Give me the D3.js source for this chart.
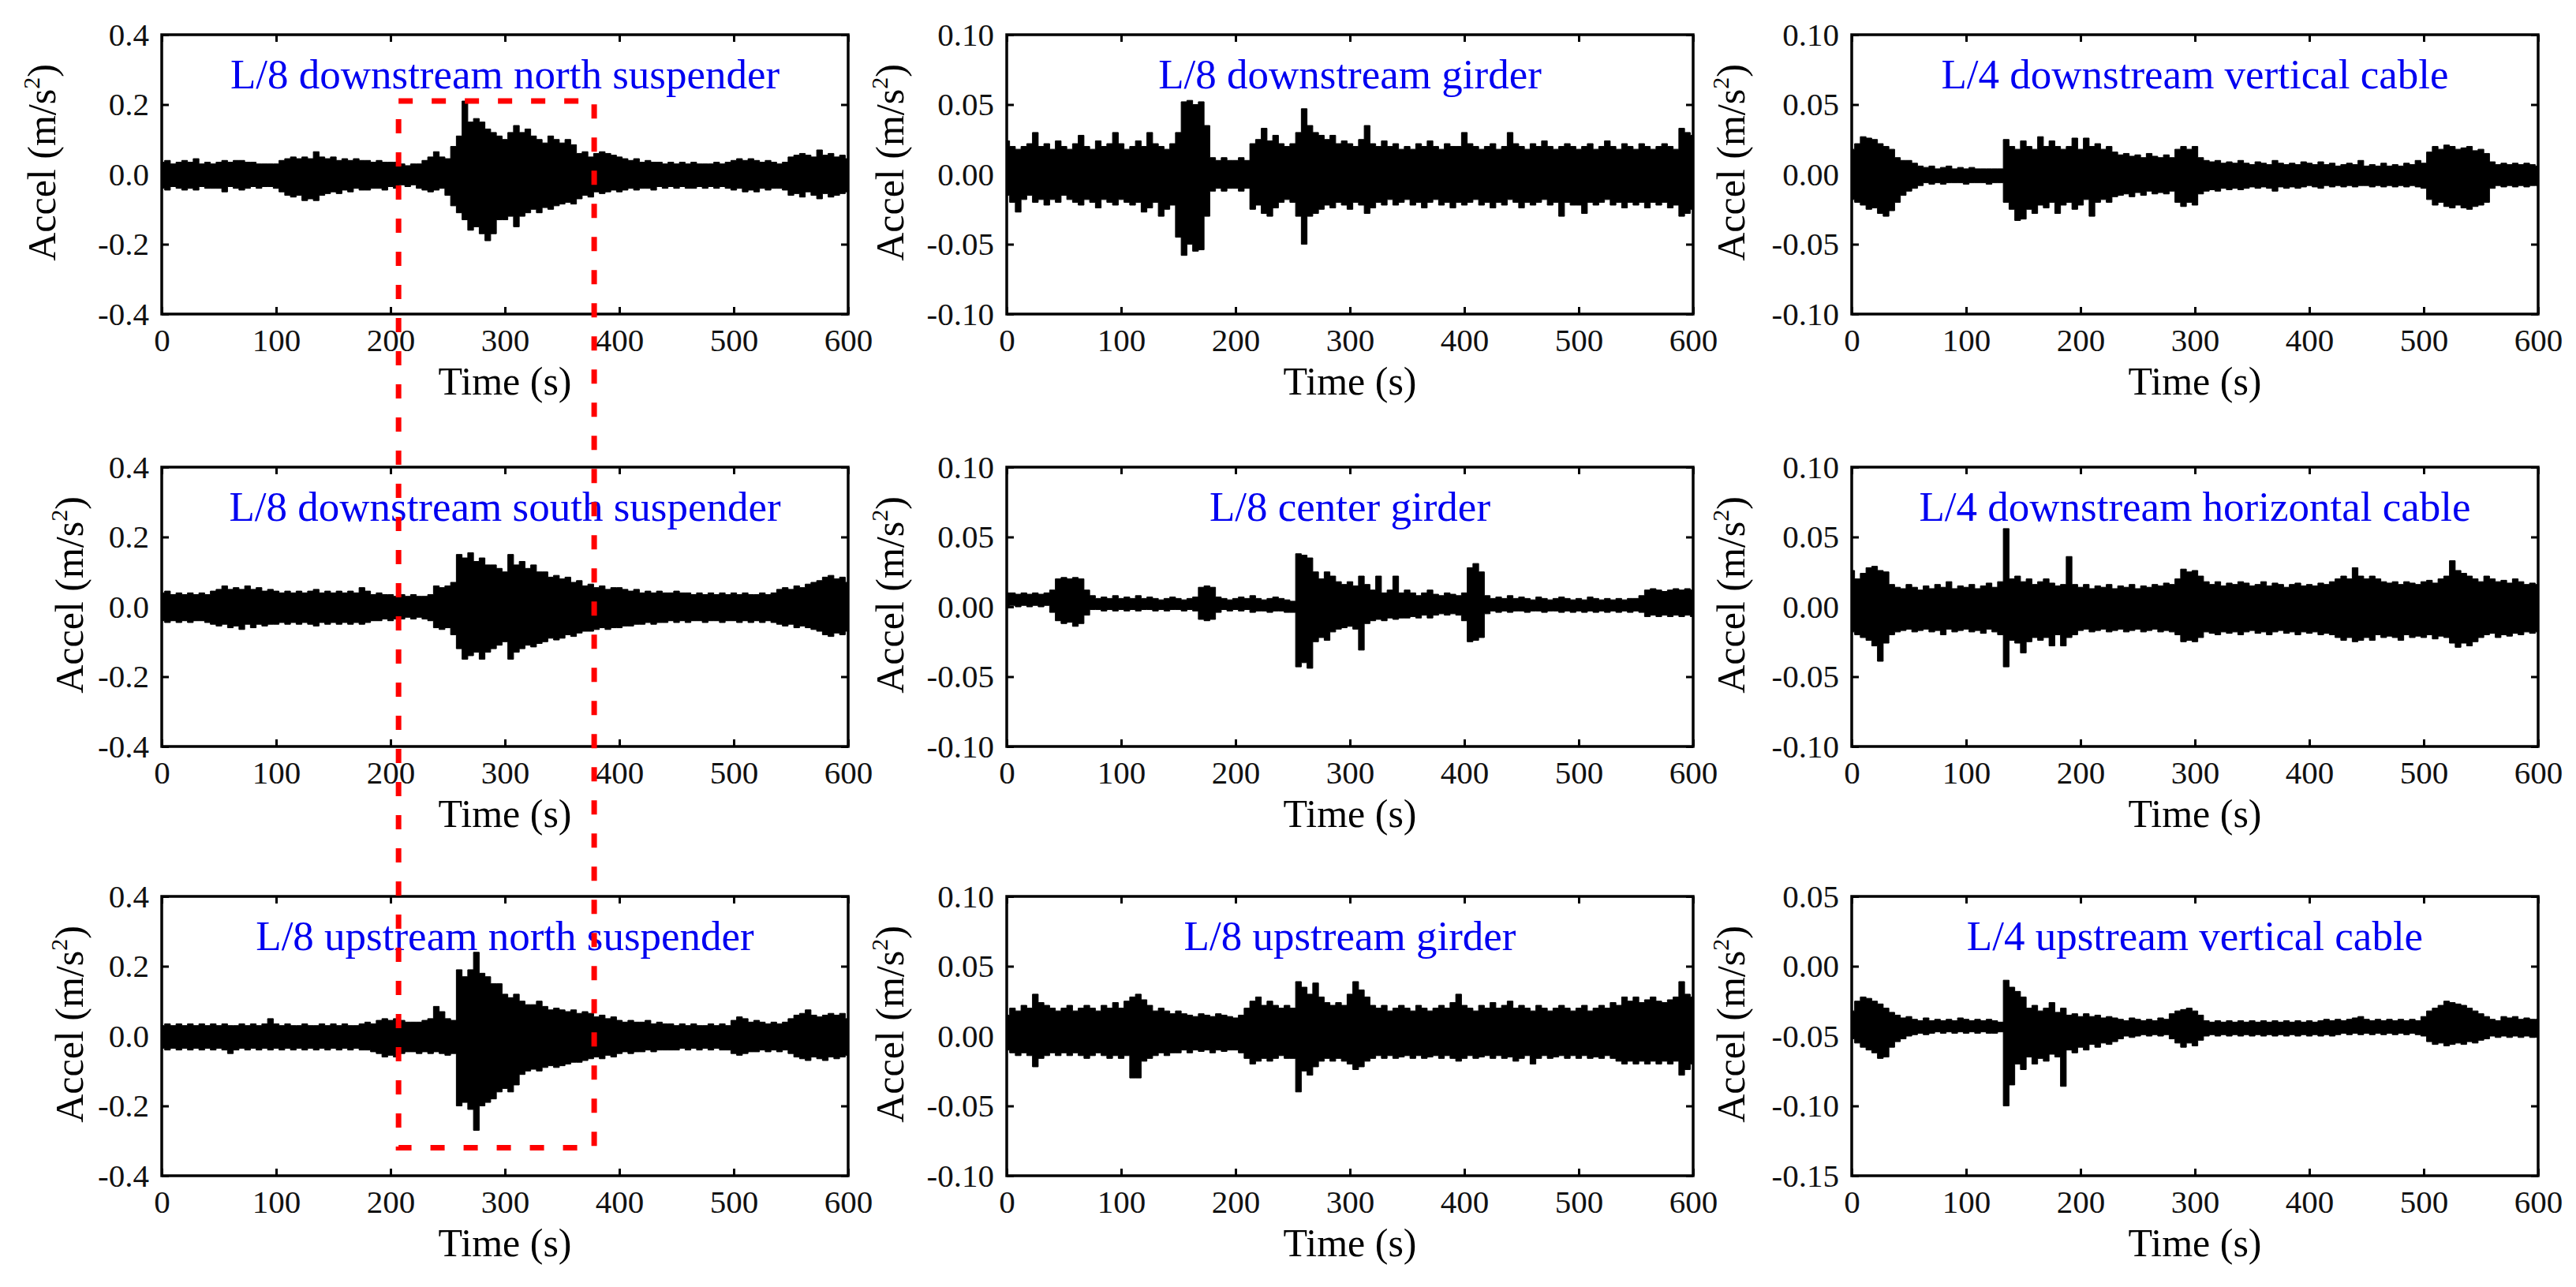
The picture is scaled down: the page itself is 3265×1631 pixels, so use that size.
<!DOCTYPE html>
<html lang="en">
<head>
<meta charset="UTF-8"/>
<title>Acceleration records</title>
<script src="https://d3js.org/d3.v7.min.js"></script>
<style>
  body { margin: 0; background: #fff; }
  text { font-family: "Liberation Serif", "Times New Roman", serif; }
  .frame { fill: none; stroke: #000; stroke-width: 3.5px; }
  .tick line { stroke: #000; stroke-width: 3px; }
  .tick text { font-family: "Liberation Serif", "Times New Roman", serif; font-size: 41px; fill: #111; }
  .trace { fill: #000; stroke: #000; stroke-width: 1px; }
  .title { fill: #0000f0; font-size: 53px; text-anchor: middle; }
  .xlabel, .ylabel { fill: #000; font-size: 50px; text-anchor: middle; }
  .zoomBox { fill: none; stroke: #f00; stroke-width: 7px; stroke-dasharray: 18,24; }
</style>
</head>
<body>
<div id="chart"></div>
<script>
// sample times (s) of the envelope readings
var times = [0,5,10,15,20,25,30,35,40,45,50,55,60,65,70,75,80,85,90,95,
  100,105,110,115,120,125,130,135,140,145,150,155,160,165,170,175,180,185,190,195,
  200,205,210,215,220,225,230,235,240,245,250,255,260,265,270,275,280,285,290,295,
  300,305,310,315,320,325,330,335,340,345,350,355,360,365,370,375,380,385,390,395,
  400,405,410,415,420,425,430,435,440,445,450,455,460,465,470,475,480,485,490,495,
  500,505,510,515,520,525,530,535,540,545,550,555,560,565,570,575,580,585,590,595,600];

var titles = ["L/8 downstream north suspender", "L/8 downstream girder", "L/4 downstream vertical cable",
  "L/8 downstream south suspender", "L/8 center girder", "L/4 downstream horizontal cable",
  "L/8 upstream north suspender", "L/8 upstream girder", "L/4 upstream vertical cable"];

var xTicks = [0, 100, 200, 300, 400, 500, 600];
var yTicksSusp = [-0.4, -0.2, 0, 0.2, 0.4];
var yTicksSmall = [-0.1, -0.05, 0, 0.05, 0.1];
var yTicksUpCable = [-0.15, -0.1, -0.05, 0, 0.05];

// envelope (max / min) of each record, read every 5 s
var upper1 = [0.035,0.04,0.03,0.035,0.04,0.035,0.045,0.03,0.035,0.03,
  0.035,0.04,0.035,0.04,0.04,0.035,0.035,0.03,0.03,0.03,
  0.03,0.04,0.045,0.05,0.045,0.05,0.045,0.065,0.05,0.045,
  0.05,0.04,0.045,0.04,0.045,0.04,0.04,0.035,0.04,0.035,
  0.035,0.035,0.03,0.025,0.03,0.03,0.04,0.05,0.065,0.05,
  0.045,0.08,0.11,0.21,0.15,0.16,0.15,0.13,0.12,0.11,
  0.1,0.12,0.14,0.12,0.13,0.11,0.1,0.09,0.11,0.1,
  0.09,0.1,0.085,0.06,0.065,0.05,0.06,0.065,0.06,0.055,
  0.05,0.045,0.04,0.045,0.035,0.04,0.035,0.035,0.03,0.035,
  0.03,0.035,0.03,0.035,0.03,0.03,0.03,0.035,0.03,0.035,
  0.04,0.045,0.04,0.045,0.04,0.035,0.04,0.035,0.03,0.035,
  0.05,0.055,0.06,0.055,0.05,0.07,0.055,0.06,0.05,0.055,0.045];
var lower1 = [-0.04,-0.045,-0.035,-0.04,-0.045,-0.04,-0.045,-0.035,-0.04,-0.04,
  -0.04,-0.05,-0.035,-0.04,-0.045,-0.04,-0.035,-0.04,-0.035,-0.035,
  -0.04,-0.05,-0.06,-0.065,-0.06,-0.075,-0.07,-0.075,-0.06,-0.055,
  -0.05,-0.055,-0.045,-0.05,-0.04,-0.045,-0.045,-0.04,-0.04,-0.045,
  -0.035,-0.04,-0.03,-0.035,-0.03,-0.04,-0.045,-0.05,-0.045,-0.04,
  -0.06,-0.09,-0.11,-0.13,-0.16,-0.15,-0.17,-0.19,-0.17,-0.13,
  -0.13,-0.12,-0.15,-0.12,-0.11,-0.1,-0.11,-0.095,-0.1,-0.09,
  -0.085,-0.08,-0.085,-0.07,-0.06,-0.065,-0.05,-0.055,-0.05,-0.045,
  -0.05,-0.045,-0.04,-0.045,-0.04,-0.04,-0.045,-0.035,-0.04,-0.035,
  -0.04,-0.035,-0.04,-0.04,-0.035,-0.04,-0.035,-0.04,-0.035,-0.04,
  -0.045,-0.04,-0.05,-0.045,-0.05,-0.04,-0.045,-0.04,-0.04,-0.045,
  -0.06,-0.055,-0.065,-0.05,-0.06,-0.07,-0.055,-0.065,-0.06,-0.055,-0.05];

var upper2 = [0.024,0.02,0.018,0.02,0.022,0.03,0.02,0.022,0.018,0.024,
  0.02,0.018,0.022,0.028,0.02,0.018,0.024,0.02,0.022,0.03,
  0.022,0.018,0.02,0.024,0.02,0.03,0.022,0.02,0.018,0.022,
  0.03,0.052,0.053,0.05,0.052,0.035,0.012,0.01,0.012,0.01,
  0.01,0.012,0.01,0.022,0.025,0.033,0.024,0.028,0.022,0.02,
  0.022,0.03,0.047,0.035,0.03,0.028,0.025,0.028,0.022,0.024,
  0.022,0.02,0.025,0.035,0.022,0.02,0.024,0.02,0.022,0.018,
  0.02,0.018,0.022,0.02,0.024,0.02,0.018,0.022,0.02,0.02,
  0.03,0.022,0.02,0.018,0.02,0.022,0.018,0.02,0.03,0.022,
  0.02,0.018,0.022,0.02,0.024,0.02,0.018,0.02,0.022,0.02,
  0.018,0.02,0.022,0.018,0.02,0.024,0.02,0.018,0.022,0.02,
  0.018,0.022,0.02,0.018,0.02,0.022,0.02,0.018,0.033,0.03,0.028];
var lower2 = [-0.015,-0.02,-0.027,-0.018,-0.015,-0.02,-0.018,-0.022,-0.018,-0.02,
  -0.015,-0.018,-0.02,-0.022,-0.018,-0.02,-0.024,-0.018,-0.02,-0.022,
  -0.018,-0.02,-0.022,-0.02,-0.027,-0.024,-0.02,-0.03,-0.025,-0.022,
  -0.045,-0.058,-0.05,-0.055,-0.054,-0.03,-0.012,-0.01,-0.012,-0.01,
  -0.01,-0.012,-0.01,-0.025,-0.022,-0.028,-0.03,-0.024,-0.02,-0.018,
  -0.02,-0.03,-0.05,-0.03,-0.028,-0.025,-0.022,-0.024,-0.02,-0.022,
  -0.025,-0.02,-0.022,-0.028,-0.024,-0.02,-0.022,-0.018,-0.022,-0.02,
  -0.018,-0.022,-0.02,-0.024,-0.02,-0.018,-0.022,-0.02,-0.024,-0.02,
  -0.022,-0.02,-0.018,-0.022,-0.02,-0.024,-0.02,-0.022,-0.018,-0.02,
  -0.024,-0.02,-0.022,-0.02,-0.018,-0.022,-0.02,-0.03,-0.02,-0.022,
  -0.022,-0.028,-0.02,-0.022,-0.02,-0.018,-0.022,-0.02,-0.024,-0.02,
  -0.022,-0.02,-0.024,-0.02,-0.022,-0.02,-0.024,-0.022,-0.03,-0.028,-0.025];

var upper3 = [0.018,0.022,0.027,0.026,0.025,0.022,0.02,0.018,0.012,0.01,
  0.01,0.008,0.006,0.005,0.006,0.004,0.005,0.006,0.004,0.005,
  0.004,0.005,0.004,0.004,0.004,0.004,0.004,0.025,0.02,0.018,
  0.024,0.02,0.018,0.027,0.02,0.024,0.02,0.018,0.02,0.026,
  0.018,0.026,0.02,0.022,0.018,0.02,0.016,0.014,0.015,0.013,
  0.014,0.012,0.015,0.013,0.012,0.014,0.012,0.018,0.02,0.018,
  0.02,0.012,0.01,0.009,0.01,0.008,0.009,0.008,0.01,0.008,
  0.007,0.009,0.008,0.007,0.01,0.008,0.007,0.008,0.007,0.009,
  0.008,0.007,0.009,0.007,0.008,0.006,0.007,0.008,0.007,0.01,
  0.006,0.007,0.006,0.008,0.006,0.007,0.006,0.008,0.007,0.01,
  0.008,0.016,0.02,0.018,0.021,0.02,0.018,0.019,0.02,0.017,
  0.018,0.015,0.009,0.007,0.008,0.007,0.008,0.007,0.008,0.007,0.006];
var lower3 = [-0.018,-0.02,-0.022,-0.025,-0.024,-0.028,-0.03,-0.026,-0.02,-0.015,
  -0.012,-0.01,-0.008,-0.006,-0.007,-0.006,-0.007,-0.006,-0.006,-0.006,
  -0.007,-0.006,-0.006,-0.006,-0.007,-0.006,-0.006,-0.02,-0.025,-0.033,
  -0.032,-0.025,-0.028,-0.022,-0.024,-0.02,-0.028,-0.022,-0.02,-0.025,
  -0.022,-0.018,-0.03,-0.02,-0.018,-0.02,-0.016,-0.015,-0.014,-0.016,
  -0.013,-0.015,-0.012,-0.014,-0.013,-0.014,-0.012,-0.02,-0.023,-0.02,
  -0.022,-0.014,-0.012,-0.011,-0.012,-0.01,-0.011,-0.01,-0.011,-0.01,
  -0.009,-0.01,-0.009,-0.01,-0.012,-0.009,-0.01,-0.009,-0.01,-0.009,
  -0.008,-0.009,-0.01,-0.008,-0.009,-0.008,-0.009,-0.008,-0.009,-0.008,
  -0.008,-0.009,-0.008,-0.009,-0.008,-0.009,-0.008,-0.009,-0.008,-0.009,
  -0.01,-0.018,-0.022,-0.02,-0.023,-0.024,-0.022,-0.024,-0.025,-0.023,
  -0.022,-0.02,-0.01,-0.008,-0.009,-0.008,-0.009,-0.008,-0.009,-0.008,-0.008];

var upper4 = [0.04,0.045,0.035,0.04,0.035,0.04,0.035,0.04,0.035,0.045,
  0.05,0.06,0.05,0.055,0.05,0.06,0.05,0.055,0.045,0.05,
  0.045,0.04,0.045,0.04,0.045,0.04,0.045,0.05,0.04,0.045,
  0.04,0.045,0.04,0.045,0.04,0.055,0.045,0.035,0.04,0.035,
  0.035,0.03,0.035,0.03,0.035,0.03,0.03,0.035,0.06,0.055,
  0.06,0.07,0.15,0.14,0.155,0.13,0.14,0.12,0.12,0.11,
  0.1,0.15,0.12,0.13,0.11,0.12,0.1,0.1,0.085,0.09,
  0.08,0.085,0.07,0.075,0.06,0.065,0.055,0.06,0.05,0.055,
  0.055,0.05,0.045,0.05,0.04,0.045,0.04,0.045,0.04,0.04,
  0.045,0.04,0.04,0.035,0.04,0.035,0.04,0.035,0.04,0.035,
  0.04,0.035,0.04,0.035,0.035,0.04,0.035,0.04,0.05,0.055,
  0.05,0.06,0.055,0.065,0.07,0.075,0.085,0.09,0.08,0.085,0.07];
var lower4 = [-0.04,-0.045,-0.04,-0.045,-0.04,-0.045,-0.04,-0.04,-0.045,-0.05,
  -0.055,-0.05,-0.06,-0.055,-0.065,-0.05,-0.06,-0.05,-0.055,-0.05,
  -0.05,-0.045,-0.05,-0.045,-0.05,-0.045,-0.05,-0.055,-0.045,-0.05,
  -0.045,-0.05,-0.045,-0.05,-0.045,-0.05,-0.045,-0.04,-0.04,-0.035,
  -0.04,-0.035,-0.035,-0.03,-0.035,-0.03,-0.035,-0.04,-0.06,-0.065,
  -0.06,-0.08,-0.12,-0.15,-0.14,-0.13,-0.15,-0.13,-0.12,-0.11,
  -0.1,-0.15,-0.13,-0.12,-0.11,-0.115,-0.105,-0.1,-0.09,-0.095,
  -0.09,-0.08,-0.085,-0.075,-0.07,-0.07,-0.065,-0.06,-0.065,-0.06,
  -0.06,-0.055,-0.055,-0.05,-0.05,-0.045,-0.05,-0.045,-0.045,-0.04,
  -0.045,-0.04,-0.045,-0.04,-0.04,-0.045,-0.04,-0.04,-0.045,-0.04,
  -0.04,-0.045,-0.04,-0.045,-0.04,-0.045,-0.04,-0.045,-0.05,-0.055,
  -0.05,-0.06,-0.055,-0.06,-0.065,-0.07,-0.08,-0.085,-0.075,-0.08,-0.07];

var upper5 = [0.01,0.01,0.009,0.01,0.009,0.01,0.009,0.01,0.012,0.02,
  0.021,0.02,0.021,0.02,0.012,0.008,0.006,0.007,0.006,0.008,
  0.006,0.007,0.006,0.008,0.006,0.007,0.006,0.005,0.006,0.007,
  0.006,0.005,0.006,0.007,0.014,0.015,0.014,0.007,0.006,0.005,
  0.006,0.007,0.006,0.008,0.006,0.005,0.006,0.007,0.006,0.005,
  0.004,0.038,0.037,0.035,0.025,0.02,0.025,0.022,0.018,0.016,
  0.018,0.015,0.022,0.016,0.012,0.022,0.01,0.012,0.022,0.01,
  0.012,0.01,0.008,0.01,0.012,0.009,0.008,0.01,0.009,0.008,
  0.01,0.028,0.031,0.025,0.008,0.006,0.007,0.006,0.008,0.006,
  0.007,0.006,0.005,0.007,0.006,0.005,0.006,0.007,0.006,0.005,
  0.006,0.005,0.007,0.006,0.005,0.006,0.005,0.006,0.005,0.006,
  0.006,0.008,0.012,0.013,0.012,0.011,0.012,0.013,0.012,0.013,0.012];
var lower5 = [0.0,0.001,0.0,0.001,0.0,0.001,0.0,0.001,-0.004,-0.01,
  -0.012,-0.011,-0.014,-0.012,-0.006,-0.002,-0.002,-0.003,-0.002,-0.003,
  -0.002,-0.003,-0.002,-0.003,-0.002,-0.002,-0.003,-0.002,-0.003,-0.002,
  -0.002,-0.003,-0.002,-0.003,-0.009,-0.01,-0.009,-0.004,-0.002,-0.003,
  -0.002,-0.003,-0.002,-0.004,-0.003,-0.003,-0.004,-0.003,-0.003,-0.004,
  -0.004,-0.043,-0.04,-0.044,-0.025,-0.022,-0.024,-0.018,-0.016,-0.015,
  -0.014,-0.016,-0.031,-0.012,-0.01,-0.009,-0.01,-0.008,-0.009,-0.008,
  -0.008,-0.007,-0.008,-0.006,-0.008,-0.006,-0.005,-0.006,-0.005,-0.006,
  -0.01,-0.025,-0.024,-0.022,-0.005,-0.003,-0.004,-0.003,-0.004,-0.003,
  -0.003,-0.004,-0.003,-0.003,-0.004,-0.003,-0.003,-0.004,-0.003,-0.004,
  -0.003,-0.004,-0.003,-0.004,-0.003,-0.004,-0.003,-0.004,-0.003,-0.004,
  -0.003,-0.004,-0.007,-0.006,-0.007,-0.006,-0.007,-0.006,-0.007,-0.006,-0.007];

var upper6 = [0.026,0.02,0.024,0.028,0.029,0.026,0.025,0.016,0.014,0.013,
  0.016,0.014,0.012,0.015,0.013,0.016,0.014,0.018,0.013,0.015,
  0.014,0.016,0.013,0.015,0.017,0.014,0.018,0.056,0.02,0.022,
  0.018,0.02,0.016,0.018,0.02,0.017,0.015,0.016,0.036,0.016,
  0.014,0.016,0.013,0.015,0.014,0.016,0.013,0.015,0.014,0.016,
  0.013,0.015,0.014,0.016,0.015,0.017,0.016,0.02,0.027,0.025,
  0.026,0.022,0.018,0.016,0.018,0.015,0.017,0.016,0.018,0.017,
  0.015,0.016,0.018,0.015,0.017,0.016,0.014,0.016,0.017,0.015,
  0.016,0.015,0.017,0.016,0.018,0.02,0.022,0.02,0.028,0.022,
  0.02,0.022,0.02,0.018,0.017,0.018,0.016,0.018,0.017,0.016,
  0.018,0.019,0.017,0.02,0.022,0.033,0.026,0.024,0.022,0.02,
  0.018,0.022,0.02,0.018,0.019,0.017,0.02,0.018,0.016,0.017,0.016];
var lower6 = [-0.018,-0.02,-0.022,-0.024,-0.028,-0.039,-0.026,-0.02,-0.018,-0.017,
  -0.016,-0.018,-0.017,-0.016,-0.018,-0.017,-0.02,-0.016,-0.018,-0.017,
  -0.016,-0.018,-0.017,-0.019,-0.016,-0.018,-0.02,-0.043,-0.024,-0.026,
  -0.033,-0.025,-0.022,-0.024,-0.022,-0.028,-0.02,-0.028,-0.022,-0.02,
  -0.017,-0.016,-0.018,-0.017,-0.016,-0.018,-0.017,-0.016,-0.018,-0.017,
  -0.016,-0.018,-0.017,-0.016,-0.018,-0.017,-0.018,-0.02,-0.025,-0.024,
  -0.025,-0.022,-0.018,-0.019,-0.02,-0.018,-0.019,-0.018,-0.02,-0.018,
  -0.017,-0.019,-0.018,-0.02,-0.018,-0.017,-0.019,-0.018,-0.02,-0.018,
  -0.019,-0.018,-0.02,-0.019,-0.02,-0.022,-0.024,-0.022,-0.025,-0.024,
  -0.022,-0.024,-0.02,-0.022,-0.021,-0.022,-0.024,-0.02,-0.022,-0.021,
  -0.022,-0.02,-0.023,-0.021,-0.022,-0.026,-0.029,-0.026,-0.028,-0.025,
  -0.022,-0.02,-0.019,-0.022,-0.02,-0.021,-0.019,-0.02,-0.018,-0.019,-0.018];

var upper7 = [0.03,0.035,0.03,0.035,0.03,0.035,0.03,0.035,0.03,0.035,
  0.03,0.035,0.03,0.03,0.035,0.03,0.035,0.03,0.035,0.05,
  0.035,0.03,0.035,0.03,0.03,0.035,0.03,0.03,0.035,0.03,
  0.035,0.03,0.035,0.03,0.03,0.035,0.04,0.035,0.045,0.05,
  0.045,0.05,0.045,0.04,0.04,0.04,0.045,0.05,0.085,0.07,
  0.05,0.045,0.19,0.17,0.19,0.24,0.18,0.17,0.15,0.15,
  0.12,0.11,0.12,0.1,0.09,0.09,0.1,0.085,0.075,0.08,
  0.075,0.07,0.075,0.065,0.07,0.065,0.055,0.06,0.05,0.055,
  0.045,0.04,0.045,0.04,0.04,0.045,0.035,0.04,0.035,0.035,
  0.03,0.035,0.03,0.035,0.03,0.03,0.035,0.03,0.035,0.03,
  0.045,0.055,0.05,0.04,0.045,0.04,0.035,0.04,0.035,0.04,
  0.05,0.06,0.065,0.075,0.06,0.055,0.06,0.065,0.06,0.065,0.05];
var lower7 = [-0.035,-0.04,-0.035,-0.04,-0.035,-0.04,-0.035,-0.04,-0.035,-0.04,
  -0.035,-0.04,-0.05,-0.04,-0.035,-0.04,-0.035,-0.04,-0.035,-0.04,
  -0.035,-0.04,-0.035,-0.04,-0.035,-0.04,-0.035,-0.04,-0.035,-0.04,
  -0.035,-0.04,-0.035,-0.04,-0.035,-0.04,-0.04,-0.045,-0.05,-0.06,
  -0.055,-0.06,-0.05,-0.045,-0.045,-0.05,-0.045,-0.05,-0.045,-0.05,
  -0.055,-0.05,-0.2,-0.19,-0.21,-0.27,-0.2,-0.19,-0.18,-0.16,
  -0.15,-0.16,-0.14,-0.11,-0.1,-0.095,-0.1,-0.09,-0.085,-0.09,
  -0.085,-0.08,-0.075,-0.075,-0.07,-0.065,-0.06,-0.065,-0.055,-0.06,
  -0.05,-0.045,-0.05,-0.045,-0.045,-0.04,-0.045,-0.04,-0.04,-0.04,
  -0.04,-0.035,-0.04,-0.035,-0.04,-0.035,-0.04,-0.035,-0.04,-0.04,
  -0.05,-0.055,-0.05,-0.045,-0.045,-0.04,-0.045,-0.04,-0.045,-0.04,
  -0.05,-0.06,-0.065,-0.07,-0.06,-0.065,-0.07,-0.06,-0.065,-0.06,-0.055];

var upper8 = [0.015,0.02,0.018,0.022,0.02,0.03,0.024,0.022,0.02,0.018,
  0.02,0.022,0.018,0.02,0.022,0.02,0.018,0.022,0.02,0.024,
  0.02,0.025,0.028,0.03,0.026,0.022,0.018,0.02,0.018,0.016,
  0.018,0.016,0.015,0.014,0.016,0.015,0.014,0.016,0.015,0.014,
  0.013,0.015,0.02,0.025,0.028,0.022,0.025,0.022,0.02,0.022,
  0.02,0.039,0.035,0.03,0.038,0.028,0.024,0.022,0.024,0.022,
  0.03,0.039,0.033,0.028,0.022,0.02,0.022,0.018,0.02,0.022,
  0.02,0.018,0.022,0.02,0.018,0.02,0.022,0.02,0.024,0.03,
  0.022,0.02,0.018,0.022,0.02,0.024,0.02,0.022,0.025,0.02,
  0.022,0.02,0.018,0.022,0.02,0.018,0.02,0.022,0.02,0.018,
  0.02,0.022,0.018,0.02,0.022,0.02,0.024,0.022,0.028,0.025,
  0.028,0.024,0.026,0.028,0.025,0.024,0.026,0.028,0.039,0.03,0.028];
var lower8 = [-0.01,-0.012,-0.014,-0.012,-0.014,-0.022,-0.016,-0.014,-0.012,-0.014,
  -0.012,-0.014,-0.012,-0.014,-0.016,-0.014,-0.012,-0.014,-0.016,-0.014,
  -0.016,-0.014,-0.03,-0.03,-0.018,-0.016,-0.014,-0.012,-0.014,-0.012,
  -0.012,-0.01,-0.012,-0.01,-0.011,-0.01,-0.012,-0.01,-0.011,-0.01,
  -0.01,-0.012,-0.016,-0.02,-0.018,-0.016,-0.018,-0.016,-0.014,-0.016,
  -0.016,-0.04,-0.025,-0.028,-0.022,-0.018,-0.016,-0.018,-0.016,-0.018,
  -0.02,-0.024,-0.022,-0.018,-0.016,-0.014,-0.016,-0.014,-0.016,-0.015,
  -0.014,-0.016,-0.014,-0.016,-0.015,-0.014,-0.016,-0.014,-0.016,-0.018,
  -0.016,-0.014,-0.016,-0.015,-0.014,-0.016,-0.014,-0.016,-0.015,-0.018,
  -0.016,-0.014,-0.02,-0.016,-0.014,-0.016,-0.015,-0.014,-0.016,-0.014,
  -0.016,-0.014,-0.016,-0.015,-0.016,-0.014,-0.016,-0.018,-0.02,-0.018,
  -0.02,-0.018,-0.02,-0.018,-0.02,-0.018,-0.02,-0.018,-0.028,-0.024,-0.02];

var upper9 = [-0.032,-0.025,-0.022,-0.023,-0.025,-0.027,-0.03,-0.033,-0.035,-0.037,
  -0.036,-0.038,-0.039,-0.037,-0.039,-0.038,-0.039,-0.038,-0.039,-0.037,
  -0.038,-0.039,-0.038,-0.039,-0.038,-0.039,-0.04,-0.01,-0.015,-0.018,
  -0.022,-0.03,-0.028,-0.032,-0.03,-0.026,-0.033,-0.03,-0.035,-0.034,
  -0.036,-0.034,-0.036,-0.035,-0.037,-0.036,-0.037,-0.038,-0.039,-0.037,
  -0.038,-0.039,-0.038,-0.039,-0.037,-0.038,-0.034,-0.032,-0.031,-0.03,
  -0.032,-0.035,-0.039,-0.04,-0.039,-0.04,-0.039,-0.04,-0.039,-0.04,
  -0.039,-0.04,-0.039,-0.04,-0.039,-0.04,-0.039,-0.04,-0.039,-0.04,
  -0.039,-0.04,-0.039,-0.038,-0.039,-0.038,-0.039,-0.038,-0.037,-0.036,
  -0.038,-0.039,-0.038,-0.039,-0.038,-0.039,-0.038,-0.039,-0.038,-0.039,
  -0.036,-0.032,-0.03,-0.028,-0.025,-0.026,-0.027,-0.028,-0.03,-0.032,
  -0.034,-0.036,-0.038,-0.039,-0.036,-0.037,-0.036,-0.038,-0.037,-0.038,-0.038];
var lower9 = [-0.052,-0.055,-0.058,-0.06,-0.062,-0.066,-0.065,-0.058,-0.054,-0.052,
  -0.05,-0.049,-0.048,-0.049,-0.048,-0.047,-0.048,-0.047,-0.048,-0.047,
  -0.048,-0.047,-0.048,-0.047,-0.048,-0.048,-0.047,-0.1,-0.085,-0.07,
  -0.074,-0.065,-0.07,-0.066,-0.068,-0.063,-0.065,-0.086,-0.06,-0.062,
  -0.058,-0.06,-0.056,-0.058,-0.055,-0.056,-0.054,-0.052,-0.05,-0.051,
  -0.05,-0.049,-0.05,-0.049,-0.05,-0.049,-0.052,-0.055,-0.058,-0.055,
  -0.057,-0.053,-0.05,-0.049,-0.05,-0.049,-0.05,-0.049,-0.05,-0.049,
  -0.05,-0.049,-0.05,-0.049,-0.05,-0.049,-0.05,-0.049,-0.05,-0.049,
  -0.05,-0.049,-0.05,-0.049,-0.05,-0.049,-0.048,-0.049,-0.048,-0.049,
  -0.048,-0.049,-0.048,-0.049,-0.048,-0.049,-0.048,-0.049,-0.048,-0.049,
  -0.05,-0.054,-0.056,-0.055,-0.057,-0.056,-0.055,-0.056,-0.054,-0.055,
  -0.053,-0.052,-0.05,-0.051,-0.05,-0.051,-0.05,-0.051,-0.05,-0.051,-0.05];

// the highlighted window (s) and its vertical extent (m/s^2)
var boxStart = 207, boxEnd = 378;
var boxTop = 0.21, boxBottom = -0.32;

var w = 3265, h = 1631;
var colLeft = [205, 1276, 2347];
var rowTop = [44, 592, 1136];
var pw = 870, ph = 354;
var yLabelGap = [135, 131, 136, 100, 131, 136, 100, 131, 136];

var panels = [
  { up: upper1, lo: lower1, ticks: yTicksSusp, fmt: ".1f" },
  { up: upper2, lo: lower2, ticks: yTicksSmall, fmt: ".2f" },
  { up: upper3, lo: lower3, ticks: yTicksSmall, fmt: ".2f" },
  { up: upper4, lo: lower4, ticks: yTicksSusp, fmt: ".1f" },
  { up: upper5, lo: lower5, ticks: yTicksSmall, fmt: ".2f" },
  { up: upper6, lo: lower6, ticks: yTicksSmall, fmt: ".2f" },
  { up: upper7, lo: lower7, ticks: yTicksSusp, fmt: ".1f" },
  { up: upper8, lo: lower8, ticks: yTicksSmall, fmt: ".2f" },
  { up: upper9, lo: lower9, ticks: yTicksUpCable, fmt: ".2f" }
];

var svg = d3.select("#chart")
  .append("svg")
  .attr("width", w)
  .attr("height", h);

var xScale = d3.scaleLinear().domain([0, 600]).range([0, pw]);
var yScales = [];

panels.forEach(function(p, k) {
  var row = Math.floor(k / 3), col = k % 3;
  var yScale = d3.scaleLinear()
    .domain(d3.extent(p.ticks))
    .range([ph, 0]);
  yScales.push(yScale);

  var g = svg.append("g")
    .attr("transform", "translate(" + colLeft[col] + "," + rowTop[row] + ")");

  var fmt = d3.format(p.fmt);
  var tickFmt = function(d) { return fmt(d).replace("\u2212", "-"); };

  // blocky envelope, like the dense record it stands for
  var area = d3.area()
    .curve(d3.curveStep)
    .x(function(d, i) { return xScale(times[i]); })
    .y0(function(d, i) { return yScale(p.lo[i]); })
    .y1(function(d) { return yScale(d); });

  g.append("path")
    .datum(p.up)
    .attr("class", "trace")
    .attr("d", area);

  var xAxis = d3.axisBottom(xScale).tickValues(xTicks)
    .tickSizeInner(-9).tickSizeOuter(0).tickPadding(18);
  var xAxisTop = d3.axisTop(xScale).tickValues(xTicks)
    .tickSizeInner(-9).tickSizeOuter(0).tickFormat("");
  var yAxis = d3.axisLeft(yScale).tickValues(p.ticks)
    .tickSizeInner(-9).tickSizeOuter(0).tickPadding(16).tickFormat(tickFmt);
  var yAxisRight = d3.axisRight(yScale).tickValues(p.ticks)
    .tickSizeInner(-9).tickSizeOuter(0).tickFormat("");

  g.append("g").attr("transform", "translate(0," + ph + ")").call(xAxis);
  g.append("g").call(xAxisTop);
  g.append("g").call(yAxis);
  g.append("g").attr("transform", "translate(" + pw + ",0)").call(yAxisRight);
  g.selectAll(".domain").remove();
  g.selectAll(".tick text").attr("font-family", null).attr("font-size", null);

  g.append("rect")
    .attr("class", "frame")
    .attr("width", pw)
    .attr("height", ph);

  g.append("text")
    .attr("class", "title")
    .attr("x", pw / 2)
    .attr("y", 68)
    .text(titles[k]);

  g.append("text")
    .attr("class", "xlabel")
    .attr("x", pw / 2)
    .attr("y", ph + 102)
    .text("Time (s)");

  var yl = g.append("text")
    .attr("class", "ylabel")
    .attr("transform", "translate(" + (-yLabelGap[k]) + "," + (ph / 2 - 15) + ") rotate(-90)");
  yl.append("tspan").text("Accel (m/s");
  yl.append("tspan").attr("dy", -20).style("font-size", "30px").text("2");
  yl.append("tspan").attr("dy", 20).text(")");
});

// dashed window spanning the three suspender records
svg.append("rect")
  .attr("class", "zoomBox")
  .attr("x", colLeft[0] + xScale(boxStart))
  .attr("y", rowTop[0] + yScales[0](boxTop))
  .attr("width", xScale(boxEnd) - xScale(boxStart))
  .attr("height", rowTop[2] + yScales[6](boxBottom) - rowTop[0] - yScales[0](boxTop));
</script>
</body>
</html>
